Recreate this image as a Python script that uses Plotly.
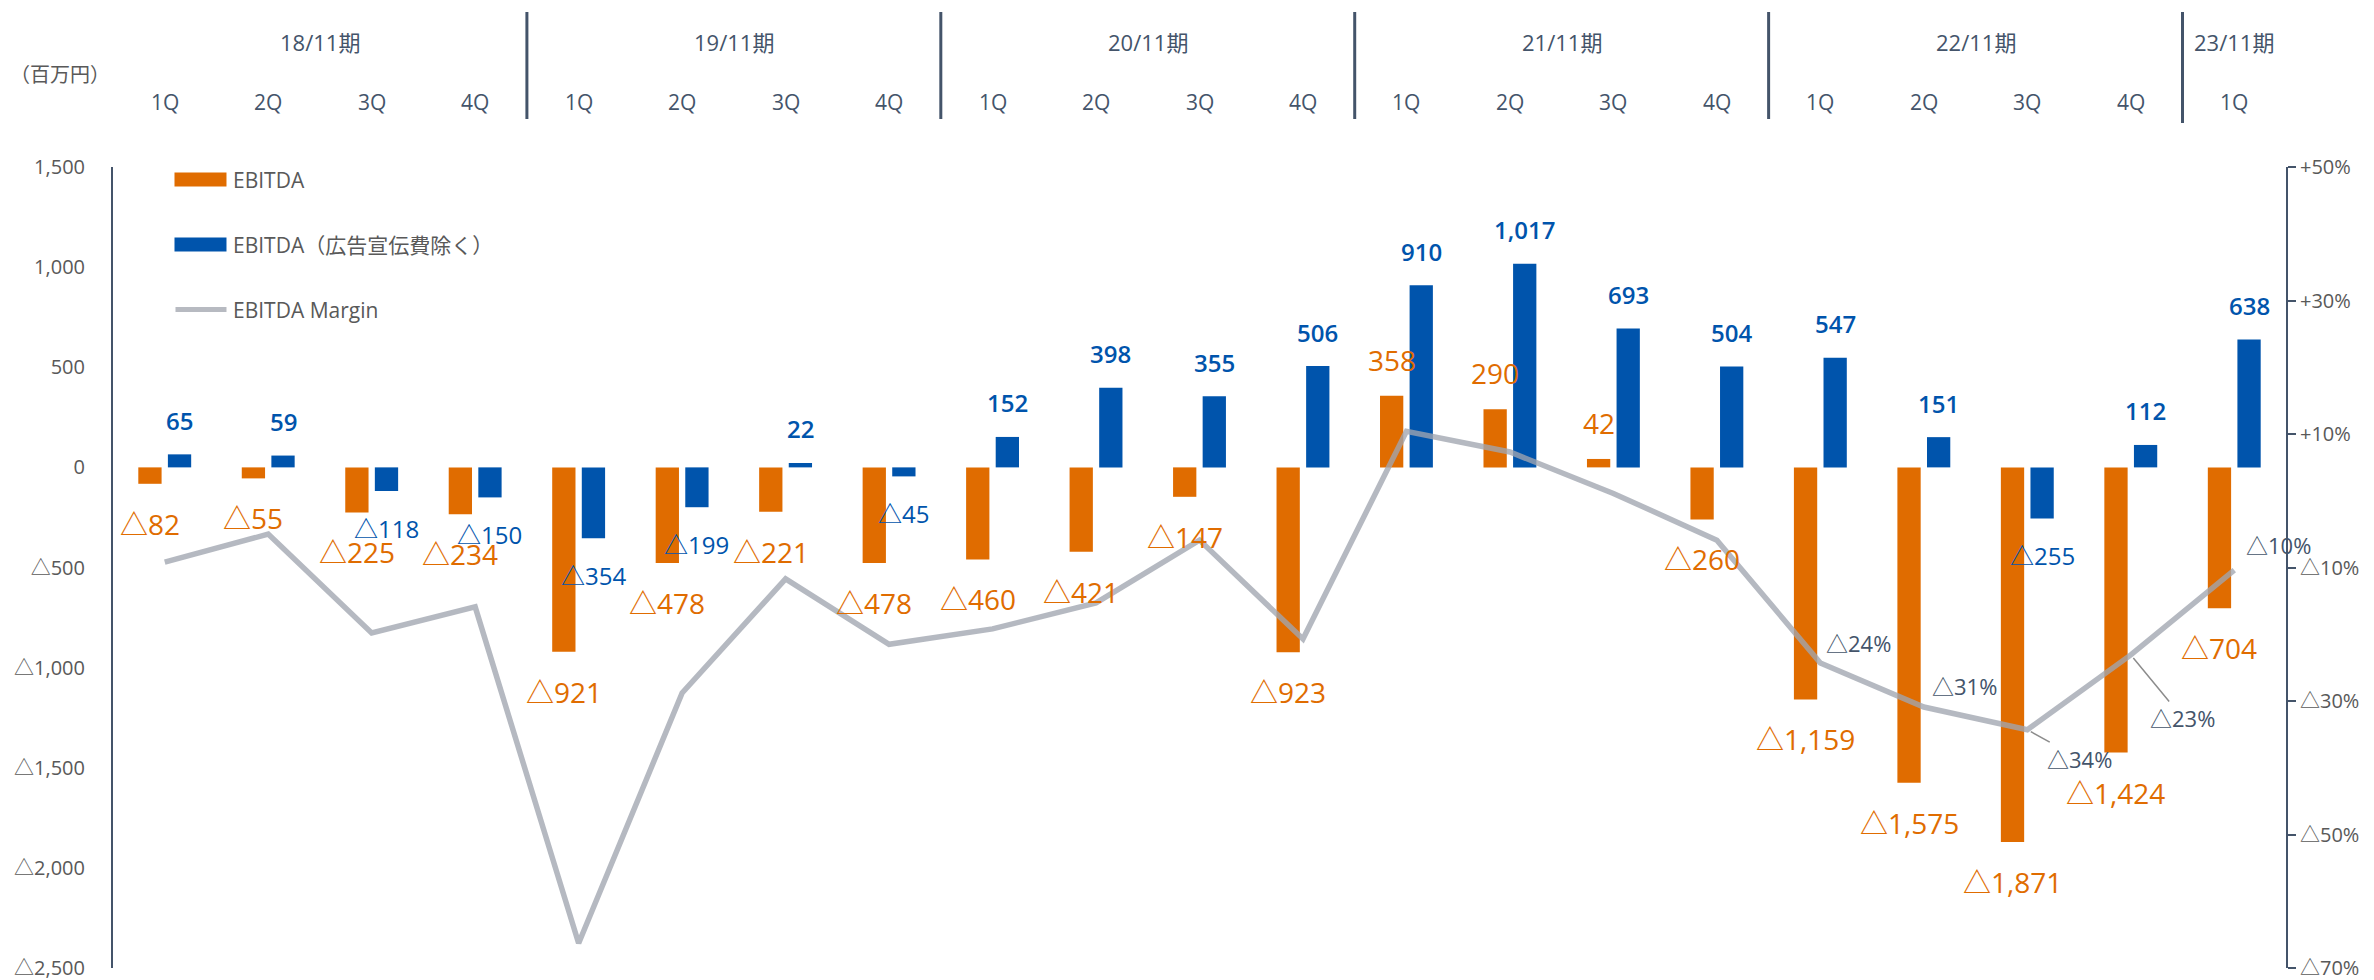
import plotly.graph_objects as go

# ---------------- data ----------------
years = ["18/11期"] * 4 + ["19/11期"] * 4 + ["20/11期"] * 4 + ["21/11期"] * 4 + ["22/11期"] * 4 + ["23/11期"]
quarters = ["1Q", "2Q", "3Q", "4Q"] * 5 + ["1Q"]
categories = [f"{y} {q}" for y, q in zip(years, quarters)]

ebitda = [-82, -55, -225, -234, -921, -478, -221, -478, -460, -421, -147, -923,
          358, 290, 42, -260, -1159, -1575, -1871, -1424, -704]
ebitda_ex_ad = [65, 59, -118, -150, -354, -199, 22, -45, 152, 398, 355, 506,
                910, 1017, 693, 504, 547, 151, -255, 112, 638]
margin_pct = [-9.2, -5.0, -19.8, -15.9, -66.3, -28.8, -11.7, -21.5, -19.2, -15.3, -5.9, -20.7,
              10.4, 7.3, 1.1, -5.9, -24.3, -30.9, -34.3, -23.1, -10.4]
margin_labelled = [16, 17, 18, 19, 20]

left_ticks = [1500, 1000, 500, 0, -500, -1000, -1500, -2000, -2500]
right_ticks = [50, 30, 10, -10, -30, -50, -70]

series_names = ["EBITDA", "EBITDA（広告宣伝費除く）", "EBITDA Margin"]
unit_label = "（百万円）"

# ---------------- styles ----------------
ORANGE = "#E06C00"
BLUE = "#0054AC"
LINE = "rgba(160,165,175,0.78)"
SLATE = "#44546A"
GRAY = "#595959"
FONT = "Open Sans, Noto Sans CJK JP, sans-serif"

W, H = 2374, 980
ML, MR, MT, MB = 112.5, 88.3, 167, 12
PW = W - ML - MR
PH = H - MT - MB


def px_to_paper_x(px):
    return (px - ML) / PW


def px_to_paper_y(py):
    return (H - MB - py) / PH


def fmt_num(v):
    s = f"{abs(v):,}"
    return "△" + s if v < 0 else s


def fmt_pct(v):
    s = f"{abs(round(v))}%"
    return "△" + s if v < 0 else "+" + s


fig = go.Figure()
fig.add_trace(go.Bar(x=categories, y=ebitda, name=series_names[0],
                     marker=dict(color=ORANGE, line=dict(width=0)), showlegend=False))
fig.add_trace(go.Bar(x=categories, y=ebitda_ex_ad, name=series_names[1],
                     marker=dict(color=BLUE, line=dict(width=0)), showlegend=False))
fig.add_trace(go.Scatter(x=categories, y=margin_pct, name=series_names[2], yaxis="y2",
                         mode="lines", line=dict(color=LINE, width=5.5), showlegend=False))

ann = []
BAR_SHIFT = 14.8
for c, v in zip(categories, ebitda):
    ann.append(dict(x=c, y=v, xref="x", yref="y", text=fmt_num(v), showarrow=False,
                    xanchor="center", yanchor="middle", xshift=-BAR_SHIFT,
                    yshift=36 if v >= 0 else -40,
                    font=dict(family=FONT, size=28, color=ORANGE)))
for c, v in zip(categories, ebitda_ex_ad):
    ann.append(dict(x=c, y=v, xref="x", yref="y", text=fmt_num(v), showarrow=False,
                    xanchor="center", yanchor="middle", xshift=BAR_SHIFT,
                    yshift=34 if v >= 0 else -37,
                    font=dict(family=FONT, size=24, color=BLUE,
                              weight=600 if v >= 0 else 400)))

# margin labels
pct_style = {
    16: dict(showarrow=False, xanchor="left", xshift=4, yshift=20),
    17: dict(showarrow=False, xanchor="left", xshift=6, yshift=21),
    18: dict(showarrow=True, ax=52, ay=29),
    19: dict(showarrow=True, ax=52, ay=63),
    20: dict(showarrow=False, xanchor="left", xshift=10, yshift=25),
}
for i in margin_labelled:
    st = pct_style[i]
    a = dict(x=categories[i], y=margin_pct[i], xref="x", yref="y2", text=fmt_pct(margin_pct[i]),
             font=dict(family=FONT, size=22, color=SLATE), yanchor="middle")
    if st.get("showarrow"):
        a.update(showarrow=True, ax=st["ax"], ay=st["ay"], axref="pixel", ayref="pixel",
                 arrowhead=0, arrowwidth=1.5, arrowcolor="#8C8C8C", standoff=4)
    else:
        a.update(showarrow=False, xanchor=st["xanchor"], xshift=st["xshift"], yshift=st["yshift"])
    ann.append(a)

# header: quarter labels and fiscal-year labels
for c, q in zip(categories, quarters):
    ann.append(dict(x=c, y=px_to_paper_y(102), xref="x", yref="paper", text=q, showarrow=False,
                    xanchor="center", yanchor="middle",
                    font=dict(family=FONT, size=21, color=SLATE)))
year_order = []
for y in years:
    if y not in year_order:
        year_order.append(y)
shapes = []
for yname in year_order:
    idx = [i for i, y in enumerate(years) if y == yname]
    ann.append(dict(x=sum(idx) / len(idx), y=px_to_paper_y(42), xref="x", yref="paper", text=yname,
                    showarrow=False, xanchor="center", yanchor="middle",
                    font=dict(family=FONT, size=22, color=SLATE)))
    if idx[0] > 0:
        last = idx[0] == len(years) - 1
        shapes.append(dict(type="line", xref="x", yref="paper", x0=idx[0] - 0.5, x1=idx[0] - 0.5,
                           y0=px_to_paper_y(12), y1=px_to_paper_y(123 if last else 119),
                           line=dict(color=SLATE, width=3)))

ann.append(dict(x=px_to_paper_x(59), y=px_to_paper_y(75), xref="paper", yref="paper", text=unit_label,
                showarrow=False, xanchor="center", yanchor="middle",
                font=dict(family=FONT, size=20, color=GRAY)))

# legend (drawn manually to match wide swatches)
leg_rows = [(179.5, ORANGE, "rect"), (244.5, BLUE, "rect"), (309.5, "#B7BAC1", "line")]
for (yc, col, kind), name in zip(leg_rows, series_names):
    if kind == "rect":
        shapes.append(dict(type="rect", xref="paper", yref="paper",
                           x0=px_to_paper_x(174), x1=px_to_paper_x(226),
                           y0=px_to_paper_y(yc + 7), y1=px_to_paper_y(yc - 7),
                           fillcolor=col, line=dict(width=0)))
    else:
        shapes.append(dict(type="line", xref="paper", yref="paper",
                           x0=px_to_paper_x(175), x1=px_to_paper_x(226),
                           y0=px_to_paper_y(yc), y1=px_to_paper_y(yc),
                           line=dict(color=col, width=5)))
    ann.append(dict(x=px_to_paper_x(231), y=px_to_paper_y(yc), xref="paper", yref="paper", text=name,
                    showarrow=False, xanchor="left", yanchor="middle",
                    font=dict(family=FONT, size=21, color=GRAY)))

fig.update_layout(
    width=W, height=H,
    margin=dict(l=ML, r=MR, t=MT, b=MB, autoexpand=False),
    paper_bgcolor="white", plot_bgcolor="white",
    barmode="group", bargap=0.428, bargroupgap=0.213,
    font=dict(family=FONT, color=GRAY),
    xaxis=dict(type="category", categoryorder="array", categoryarray=categories,
               showticklabels=False, showline=False, showgrid=False, zeroline=False,
               ticks="", range=[-0.5, len(categories) - 0.5]),
    yaxis=dict(range=[-2500, 1500], tickvals=left_ticks, ticktext=[fmt_num(v) for v in left_ticks],
               showgrid=False, zeroline=False, showline=True, linecolor=SLATE, linewidth=2,
               ticks="", ticklabelstandoff=22, ticklabeloverflow="allow",
               tickfont=dict(family=FONT, size=20, color=GRAY)),
    yaxis2=dict(range=[-70, 50], overlaying="y", side="right", tickvals=right_ticks,
                ticktext=[fmt_pct(v) for v in right_ticks],
                showgrid=False, zeroline=False, showline=True, linecolor=SLATE, linewidth=2,
                ticks="outside", ticklen=8, tickwidth=2, tickcolor=SLATE, ticklabeloverflow="allow",
                tickfont=dict(family=FONT, size=20, color=GRAY)),
    annotations=ann,
    shapes=shapes,
    showlegend=False,
)

fig.write_html("out.html", config={"displayModeBar": False},
               post_script="document.body.style.margin='0';document.body.style.overflow='hidden';")
